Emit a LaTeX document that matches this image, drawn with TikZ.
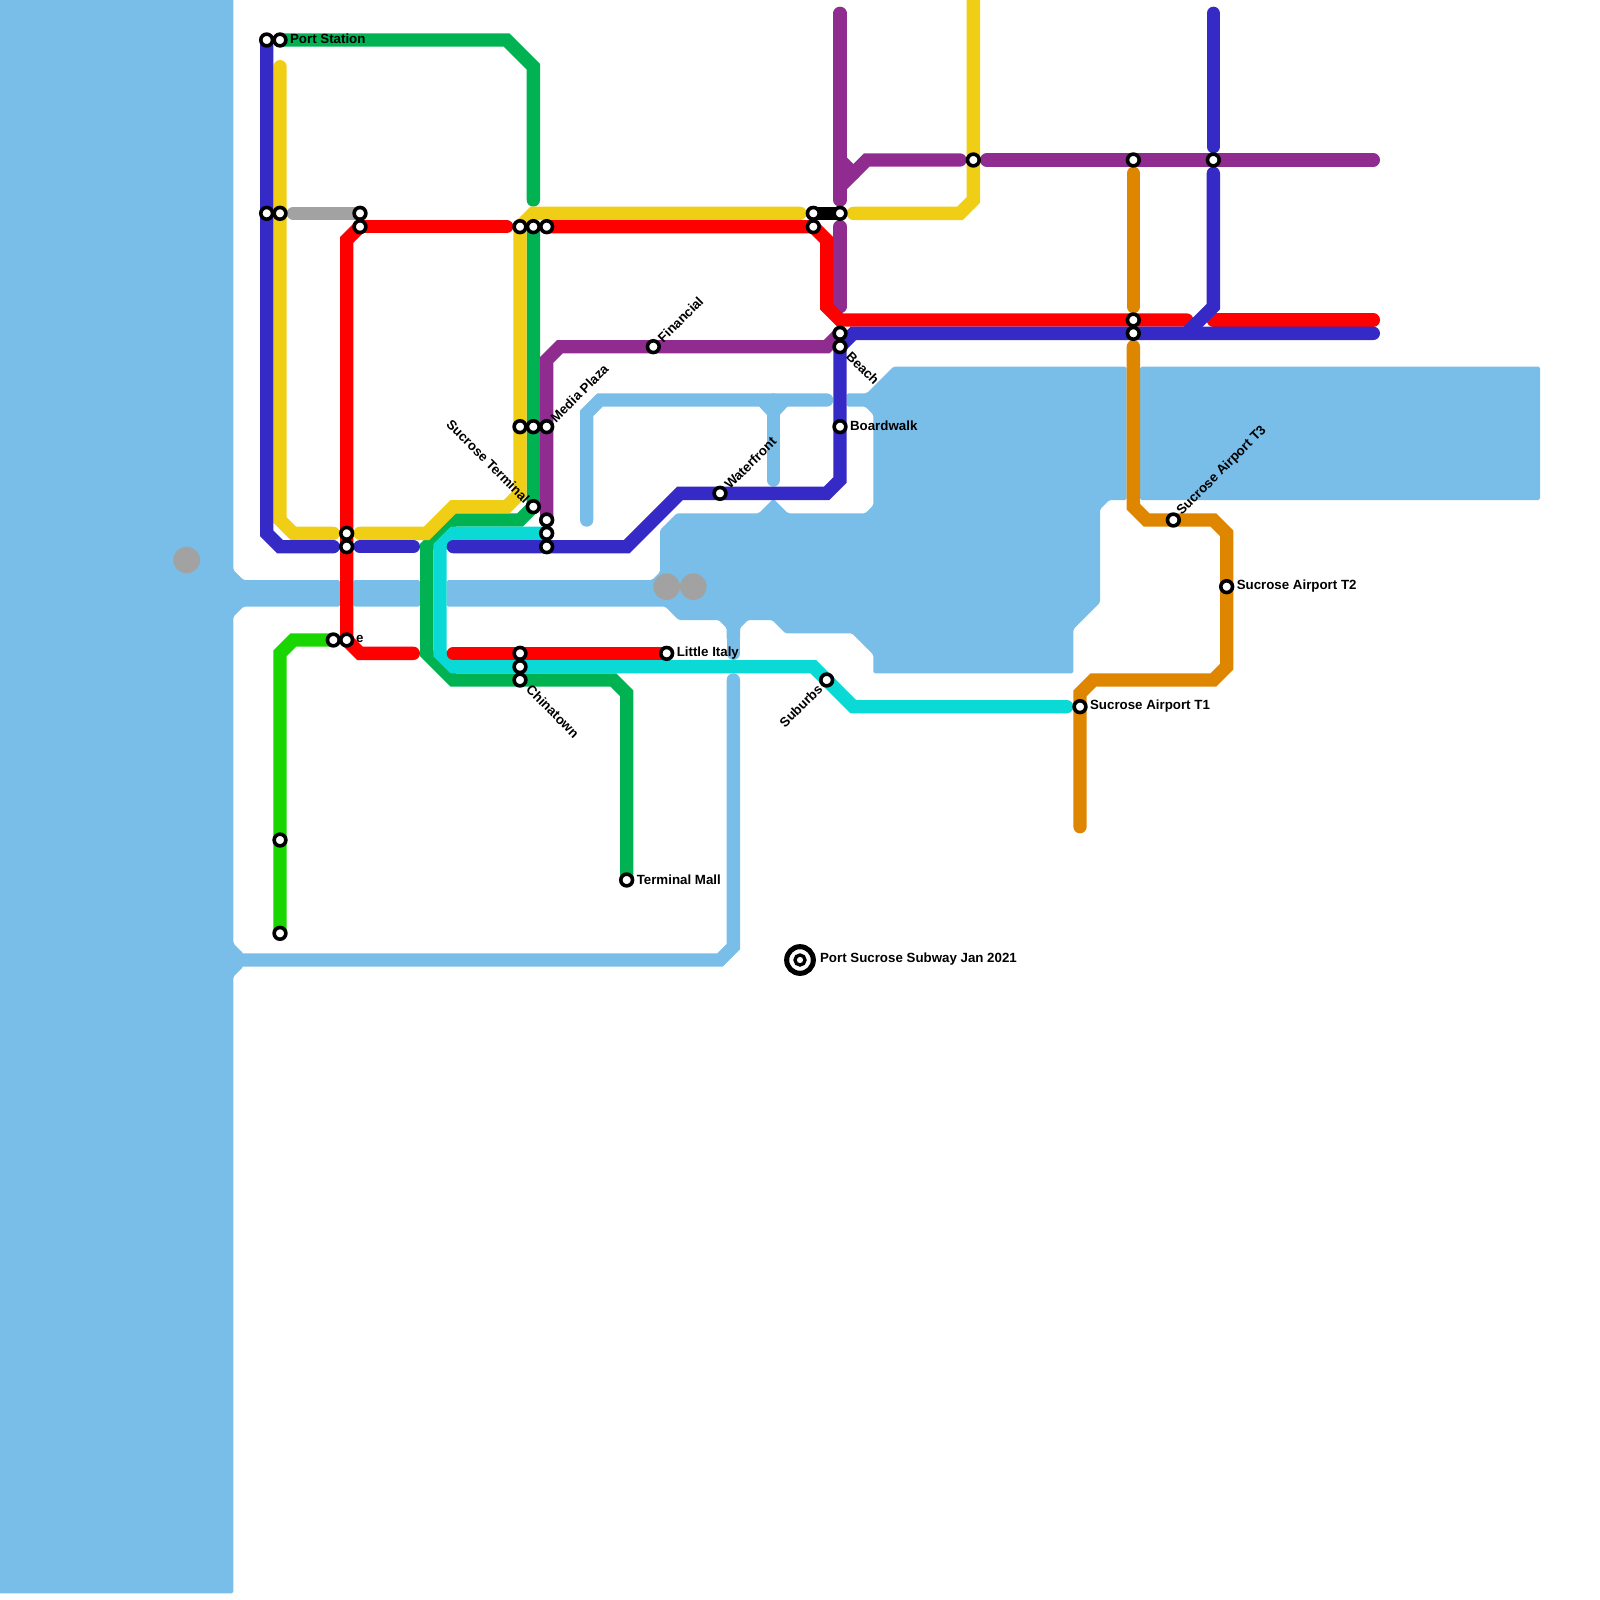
\documentclass[tikz,border=0pt]{standalone}
\usepackage{fontspec}
\setmainfont{Liberation Sans}
\usetikzlibrary{backgrounds}
\definecolor{cwater}{HTML}{79BDE9}
\definecolor{cblue}{HTML}{352AC6}
\definecolor{cyellow}{HTML}{F0CE15}
\definecolor{cgreen}{HTML}{00B251}
\definecolor{ccyan}{HTML}{0AD9D6}
\definecolor{cpurple}{HTML}{902C90}
\definecolor{corange}{HTML}{DF8600}
\definecolor{clime}{HTML}{1AD600}
\definecolor{cgray}{HTML}{A2A2A2}
\definecolor{cred}{HTML}{FF0000}
\tikzset{
  stn/.style={circle,draw=black,fill=white,line width=0.27cm,minimum size=0.88cm,inner sep=0pt},
  ringouter/.style={circle,draw=black,fill=white,line width=0.38cm,minimum size=2cm,inner sep=0pt},
  ringinner/.style={circle,draw=black,fill=white,line width=0.25cm,minimum size=0.75cm,inner sep=0pt},
  route/.style={line width=1cm,line cap=round,line join=miter,miter limit=4},
  waterfill/.style={fill=cwater,rounded corners=0.12cm},
  waterline/.style={route,draw=cwater},
  grayspot/.style={circle,fill=cgray,minimum size=2cm,inner sep=0pt},
  lbl/.style={font=\fontsize{28.4}{30}\selectfont\bfseries,inner sep=0pt,text=black},
  lblE/.style={lbl,anchor=west},
  lblUp/.style={lbl,anchor=west,rotate=45},
  lblDn/.style={lbl,anchor=west,rotate=-45},
  lblUpR/.style={lbl,anchor=east,rotate=45},
  lblDnR/.style={lbl,anchor=east,rotate=-45},
}
\begin{document}
\begin{tikzpicture}[x=1cm,y=-1cm]
\useasboundingbox (0,0) rectangle (120,120);
% stations
\foreach \n/\p in {
 blA/{20,3}, port/{21,3}, blB/{20,16}, yeB/{21,16}, grE/{27,16}, reA/{27,17},
 yeC/{39,17}, grC/{40,17}, reB/{41,17}, yeD/{39,32}, grD/{40,32}, media/{41,32},
 sucterm/{40,38}, puA/{41,39}, cyA/{41,40}, blC/{41,41}, yeE/{26,40}, blD/{26,41},
 liA/{25,48}, reC/{26,48}, reD/{39,49}, cyB/{39,50}, china/{39,51}, italy/{50,49},
 financial/{49,26}, water/{54,37}, tmall/{47,66}, blkA/{61,16}, reE/{61,17}, blkB/{63,16},
 blE/{63,25}, beach/{63,26}, board/{63,32}, suburbs/{62,51}, yeF/{73,12}, orA/{85,12},
 puB/{91,12}, orB/{85,24}, orC/{85,25}, tthree/{88,39}, ttwo/{92,44}, tone/{81,53},
 liB/{21,63}, liC/{21,70}}
 {\node[stn] (\n) at (\p) {};}
% interchange
\node[ringouter] (legend) at (60,72) {};
\node[ringinner] (legendin) at (60,72) {};
% labels
\node[lblE] (lport) at (21.75,2.92) {Port Station};
\node[lblE] (lboard) at (63.75,31.95) {Boardwalk};
\node[lblE] (litaly) at (50.75,48.95) {Little Italy};
\node[lblE] (ltmall) at (47.75,65.95) {Terminal Mall};
\node[lblE] (lone) at (81.75,52.95) {Sucrose Airport T1};
\node[lblE] (ltwo) at (92.75,43.95) {Sucrose Airport T2};
\node[lblE] (llegend) at (61.5,71.95) {Port Sucrose Subway Jan 2021};
\node[lblE] (le) at (26.7,47.95) {e};
\node[lblUp] (lfin) at (49.5,25.5) {Financial};
\node[lblUp] (lmedia) at (41.45,31.5) {Media Plaza};
\node[lblUp] (lwater) at (54.5,36.5) {Waterfront};
\node[lblUp] (lthree) at (88.45,38.5) {Sucrose Airport T3};
\node[lblDn] (lchina) at (39.65,51.55) {Chinatown};
\node[lblDn] (lbeach) at (63.65,26.55) {Beach};
\node[lblDnR] (lsuc) at (39.55,37.55) {Sucrose Terminal};
\node[lblUpR] (lsub) at (61.5,51.5) {Suburbs};
\begin{scope}[on background layer]
% water
\fill[waterfill] (-1,-1)--(17.5,-1)--(17.5,42.75)--(18.25,43.5)--(25.5,43.5)--(25.5,45.5)--(18.25,45.5)--(17.5,46.25)--(17.5,70.75)--(18.25,71.5)--(18.25,72.5)--(17.5,73.25)--(17.5,119.5)--(-1,119.5)--cycle;
\fill[waterfill] (26.5,43.5) rectangle (31.5,45.5);
\fill[waterfill] (85.5,27.5) rectangle (115.5,37.5);
\fill[waterfill] (65,29.5)--(67,27.5)--(84.5,27.5)--(84.5,37.5)--(83.2,37.5)--(82.5,38.2)--(82.5,45.2)--(80.5,47.2)--(80.5,50.5)--(65.5,50.5)--(65.5,49.1)--(63.9,47.5)--(58.9,47.5)--(57.9,46.5)--(56.1,46.5)--(55.5,47.1)--(55.5,48)--(54.5,48)--(54.5,47.1)--(53.9,46.5)--(50.9,46.5)--(49.9,45.5)--(33.5,45.5)--(33.5,43.5)--(48.9,43.5)--(49.5,42.9)--(49.5,39.75)--(50.75,38.5)--(56.9,38.5)--(58,37.4)--(59.1,38.5)--(64.9,38.5)--(65.5,37.9)--(65.5,31.1)--(64.9,30.5)--(63.5,30.5)--(63.5,29.5)--cycle;
\draw[waterline] (18,72)--(54,72)--(55,71)--(55,51);
\draw[waterline] (55,47)--(55,49);
\draw[waterline] (44,39)--(44,31)--(45,30)--(62,30);
\draw[waterline] (58,30)--(58,36);
\fill[cwater] (56.85,30.4)--(57.6,31.2)--(58.4,31.2)--(59.15,30.4)--cycle;
\node[grayspot] (gsA) at (14,42) {};
\node[grayspot] (gsB) at (50,44) {};
\node[grayspot] (gsC) at (52,44) {};
% routes
\draw[route,draw=cgray] (22,16)--(grE.center);
\draw[route,draw=cgreen] (port.center)--(38,3)--(40,5)--(40,15);
\draw[route,draw=cgreen] (grC.center)--(sucterm.center)--(39,39)--(34,39)--(32,41)--(32,49)--(34,51)--(46,51)--(47,52)--(tmall.center);
\draw[route,draw=cyellow] (21,5)--(21,39)--(22,40)--(25,40);
\draw[route,draw=cyellow] (27,40)--(32,40)--(34,38)--(38,38)--(39,37)--(yeC.center)--(40,16)--(60,16);
\draw[route,draw=cyellow] (64,16)--(72,16)--(73,15)--(73,-2);
\draw[route,draw=black] (blkA.center)--(blkB.center);
\draw[route,draw=cpurple] (63,1)--(63,15);
\draw[route,draw=cpurple] (63,12)--(64,13);
\draw[route,draw=cpurple] (72,12)--(65,12)--(63,14);
\draw[route,draw=cpurple] (74,12)--(103,12);
\draw[route,draw=cpurple] (63,17)--(63,23);
\draw[route,draw=cpurple] (puA.center)--(41,27)--(42,26)--(62,26)--(blE.center);
\draw[route,draw=ccyan] (cyA.center)--(34,40)--(33,41)--(33,49)--(34,50)--(61,50)--(64,53)--(80,53);
\draw[route,draw=cred] (reA.center)--(38,17);
\draw[route,draw=cred] (reA.center)--(26,18)--(reC.center)--(27,49)--(31,49);
\draw[route,draw=cred] (34,49)--(italy.center);
\draw[route,draw=cred] (reB.center)--(reE.center)--(62,18)--(62,23)--(63,24)--(89,24);
\draw[route,draw=cred] (91,24)--(103,24);
\draw[route,draw=cblue] (blA.center)--(20,40)--(21,41)--(25,41);
\draw[route,draw=cblue] (27,41)--(31,41);
\draw[route,draw=cblue] (34,41)--(47,41)--(51,37)--(62,37)--(63,36)--(beach.center);
\draw[route,draw=cblue] (beach.center)--(64,25)--(103,25);
\draw[route,draw=cblue] (91,1)--(91,11);
\draw[route,draw=cblue] (91,13)--(91,23)--(89,25);
\draw[route,draw=clime] (liA.center)--(22,48)--(21,49)--(liC.center);
\draw[route,draw=corange] (85,13)--(85,23);
\draw[route,draw=corange] (85,26)--(85,38)--(86,39)--(91,39)--(92,40)--(92,50)--(91,51)--(82,51)--(81,52)--(81,62);
\end{scope}
\end{tikzpicture}
\end{document}
